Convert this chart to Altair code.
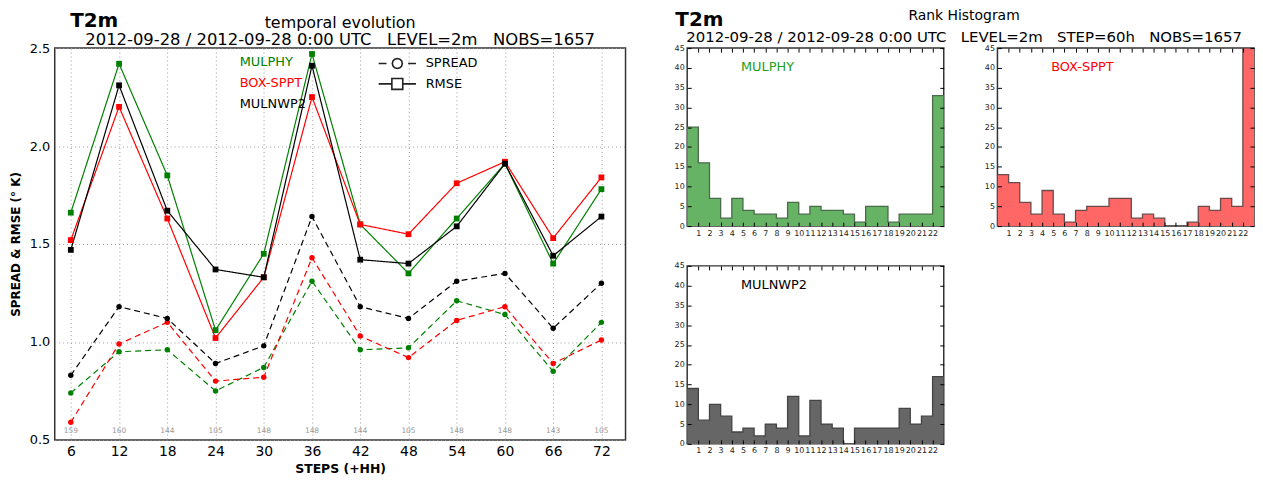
import altair as alt
import pandas as pd

# ---------------- data ----------------
steps = [6, 12, 18, 24, 30, 36, 42, 48, 54, 60, 66, 72]
models = ["MULPHY", "BOX-SPPT", "MULNWP2"]
model_colors = ["#008000", "#ff0000", "#000000"]

rmse_mulphy = [1.66, 2.42, 1.85, 1.06, 1.45, 2.47, 1.60, 1.35, 1.63, 1.91, 1.40, 1.78]
rmse_box = [1.52, 2.20, 1.63, 1.02, 1.33, 2.25, 1.60, 1.55, 1.81, 1.92, 1.53, 1.84]
rmse_nwp = [1.47, 2.31, 1.67, 1.37, 1.33, 2.41, 1.42, 1.40, 1.59, 1.91, 1.44, 1.64]

spread_mulphy = [0.74, 0.95, 0.96, 0.75, 0.87, 1.31, 0.96, 0.97, 1.21, 1.14, 0.85, 1.10]
spread_box = [0.59, 0.99, 1.10, 0.80, 0.82, 1.43, 1.03, 0.92, 1.11, 1.18, 0.89, 1.01]
spread_nwp = [0.83, 1.18, 1.12, 0.89, 0.98, 1.64, 1.18, 1.12, 1.31, 1.35, 1.07, 1.30]

counts = [159, 160, 144, 105, 148, 148, 144, 105, 148, 148, 143, 105]

rank_edges = list(range(0, 24))
rank_ticks = list(range(1, 23))
hist_mulphy = [25, 16, 7, 2, 7, 4, 3, 3, 2, 6, 3, 5, 4, 4, 3, 1, 5, 5, 1, 3, 3, 3, 33]
hist_box = [13, 11, 6, 3, 9, 3, 1, 4, 5, 5, 7, 7, 2, 3, 2, 0, 0, 1, 5, 4, 7, 5, 45]
hist_nwp = [14, 6, 10, 7, 3, 4, 2, 5, 4, 12, 2, 11, 5, 4, 0, 4, 4, 4, 4, 9, 5, 7, 17]

kinds = ["SPREAD", "RMSE"]

NB = "\u00a0"
sub_left = "2012-09-28 / 2012-09-28 0:00 UTC" + NB * 3 + "LEVEL=2m" + NB * 3 + "NOBS=1657"
sub_right = ("2012-09-28 / 2012-09-28 0:00 UTC" + NB * 3 + "LEVEL=2m" + NB * 3 +
             "STEP=60h" + NB * 3 + "NOBS=1657")

FONT = "DejaVu Sans"

# ---------------- left chart ----------------
rows = []
for m, rm, sp in zip(models, [rmse_mulphy, rmse_box, rmse_nwp],
                     [spread_mulphy, spread_box, spread_nwp]):
    for s, v in zip(steps, rm):
        rows.append({"model": m, "kind": "RMSE", "step": s, "value": v})
    for s, v in zip(steps, sp):
        rows.append({"model": m, "kind": "SPREAD", "step": s, "value": v})
df = pd.DataFrame(rows)
count_df = pd.DataFrame({"step": steps, "n": counts})

LW, LH = 574, 394

X = alt.X("step:Q",
          scale=alt.Scale(domain=[4, 75], nice=False, zero=False),
          axis=alt.Axis(values=steps, title="STEPS (+HH)", titleFontSize=12.5,
                        titleFontWeight="bold", labelFontSize=14, ticks=False,
                        labelPadding=5, grid=True, gridDash=[1, 3], gridColor="#999",
                        domain=False, titlePadding=4, labelColor="black",
                        titleColor="black", labelFlush=False))
Y = alt.Y("value:Q",
          scale=alt.Scale(domain=[0.5, 2.5], nice=False, zero=False),
          axis=alt.Axis(values=[0.5, 1.0, 1.5, 2.0, 2.5], format=".1f",
                        title="SPREAD & RMSE (\u00b0 K)", titleFontSize=12,
                        titleFontWeight="bold", labelFontSize=13, ticks=False,
                        labelPadding=5, grid=True, gridDash=[1, 3], gridColor="#999",
                        domain=False, titlePadding=7, labelColor="black",
                        titleColor="black", labelFlush=False))

color_legend = alt.Legend(
    title=None, orient="none", legendX=173, legendY=8, padding=0,
    symbolSize=0, symbolStrokeWidth=0, symbolOpacity=0, labelOffset=0,
    labelFontSize=13, labelFont=FONT, rowPadding=7,
    labelColor={"expr": "datum.value == 'MULPHY' ? '#008000' : (datum.value == 'BOX-SPPT' ? '#ff0000' : '#000000')"})

C = alt.Color("model:N", scale=alt.Scale(domain=models, range=model_colors),
              legend=color_legend)

# legend symbols: line + marker, as custom symbol paths
path_spread = ("M-2.5,0H-1.45"
               "M0.67,0L0.58,0.34L0.34,0.58L0,0.67L-0.34,0.58L-0.58,0.34"
               "L-0.67,0L-0.58,-0.34L-0.34,-0.58L0,-0.67L0.34,-0.58L0.58,-0.34Z"
               "M1.45,0H2.5")
path_rmse = "M-2.5,0H-0.73M0.73,0H2.5M-0.73,-0.73H0.73V0.73H-0.73Z"

kind_legend = alt.Legend(
    title=None, orient="none", legendX=336, legendY=7, padding=0,
    symbolSize=225, symbolStrokeWidth=1.6, symbolOpacity=1,
    labelOffset=20, labelFontSize=13, labelFont=FONT, labelColor="black",
    rowPadding=2.5)

base = alt.Chart(df).encode(x=X, y=Y, color=C)

# (dash scale lists the kinds in another order so Vega-Lite keeps it apart
#  from the shape legend)
lines = base.mark_line(strokeWidth=1.2).encode(
    strokeDash=alt.StrokeDash("kind:N",
                              scale=alt.Scale(domain=["RMSE", "SPREAD"],
                                              range=[[1, 0], [6, 4]]),
                              legend=None))
squares = base.transform_filter(alt.datum.kind == "RMSE").mark_square(size=34, opacity=1)
circles = base.transform_filter(alt.datum.kind == "SPREAD").mark_circle(size=30, opacity=1)

legend_layer = alt.Chart(df).transform_filter("false").mark_point(
    filled=False, fill="white", stroke="#222", strokeWidth=1.6, opacity=1).encode(
    x=X, y=Y,
    shape=alt.Shape("kind:N",
                    scale=alt.Scale(domain=kinds, range=[path_spread, path_rmse]),
                    legend=kind_legend))

count_text = alt.Chart(count_df).mark_text(fontSize=7.5, color="#999", baseline="middle").encode(
    x=X, y=alt.datum(0.545), text="n:Q")

left_inner = alt.layer(lines, squares, circles, legend_layer, count_text).properties(
    width=LW, height=LH,
    title=alt.Title("temporal evolution", subtitle=sub_left, fontSize=16,
                    subtitleFontSize=16.5, fontWeight="normal", anchor="middle",
                    color="black", subtitleColor="black", subtitlePadding=1, offset=-6,
                    font=FONT, subtitleFont=FONT))

left = alt.vconcat(left_inner, title=alt.Title(
    "T2m", fontSize=20, fontWeight="bold", anchor="start", dx=62, offset=-17,
    color="black", font=FONT))

# ---------------- histograms ----------------
HW, HH = 258, 179


def hist_panel(vals, fill, edge, name, name_color):
    d = pd.DataFrame({"edge": rank_edges, "count": vals + [vals[-1]]})
    hx = alt.X("edge:Q", scale=alt.Scale(domain=[0, 23], nice=False, zero=False),
               axis=alt.Axis(values=rank_ticks, title=None, labelFontSize=8, ticks=False,
                             labelPadding=3, grid=True, gridDash=[4, HH - 8, 4, 600],
                             gridColor="black", gridWidth=1, domain=False, zindex=1,
                             labelColor="#222", labelFlush=False))
    hy = alt.Y("count:Q", scale=alt.Scale(domain=[0, 45], nice=False, zero=True),
               axis=alt.Axis(values=list(range(0, 46, 5)), title=None, labelFontSize=8,
                             ticks=False, labelPadding=3, grid=True,
                             gridDash=[4, HW - 8, 4, 600], gridColor="black",
                             gridWidth=1, domain=False, zindex=1, labelColor="#222",
                             labelFlush=False))
    area = alt.Chart(d).mark_area(
        interpolate="step-after", color=fill, opacity=1, clip=True,
        line={"color": edge, "strokeWidth": 1.3}).encode(x=hx, y=hy)
    lab = alt.Chart(pd.DataFrame({"t": [name]})).mark_text(
        fontSize=13, align="left", baseline="middle", color=name_color, font=FONT
    ).encode(x=alt.value(54), y=alt.value(19), text="t:N")
    return alt.layer(area, lab).properties(width=HW, height=HH)


h1 = hist_panel(hist_mulphy, "#66b366", "#4a6b4a", "MULPHY", "#22a022")
h2 = hist_panel(hist_box, "#ff6666", "#6b4a4a", "BOX-SPPT", "#ff0000")
h3 = hist_panel(hist_nwp, "#666666", "#444444", "MULNWP2", "#000000")

right_inner = alt.vconcat(
    alt.hconcat(h1, h2, spacing=39),
    h3,
    spacing=23,
    title=alt.Title("Rank Histogram", subtitle=sub_right, fontSize=14,
                    subtitleFontSize=15, fontWeight="normal", anchor="middle",
                    color="black", subtitleColor="black", subtitlePadding=8, offset=-2,
                    font=FONT, subtitleFont=FONT))

right = alt.vconcat(right_inner, title=alt.Title(
    "T2m", fontSize=20, fontWeight="bold", anchor="start", dx=2, offset=-22,
    color="black", font=FONT))

chart = alt.hconcat(left, right, spacing=47).properties(
    padding={"left": 0, "right": 0, "top": -1, "bottom": 0}
).configure(font=FONT).configure_view(stroke="#333", strokeWidth=1.5)

chart.save("out.html", embed_options={"renderer": "svg", "actions": False})
